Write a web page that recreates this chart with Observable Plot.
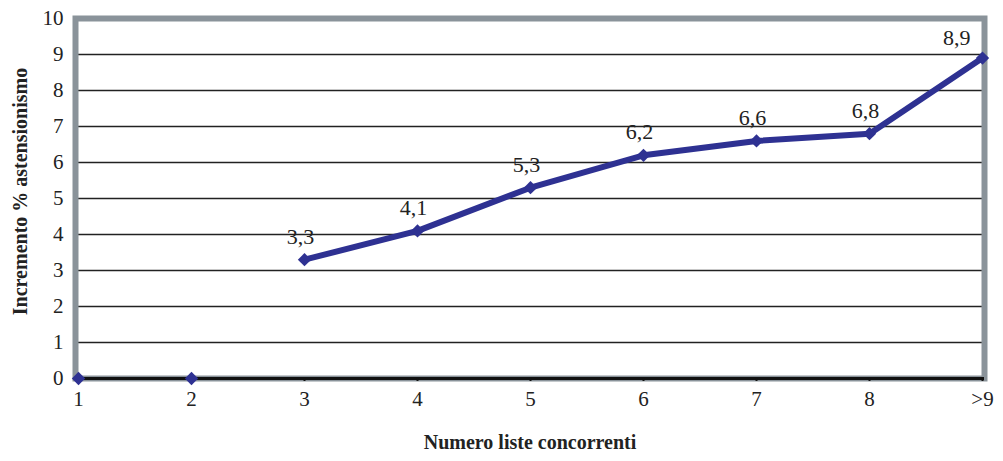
<!DOCTYPE html>
<html><head><meta charset="utf-8">
<script src="https://cdn.jsdelivr.net/npm/d3@7"></script>
<script src="https://cdn.jsdelivr.net/npm/@observablehq/plot@0.6"></script>
<style>
html,body{margin:0;padding:0;background:#fff;}
svg, svg text{font-family:"Liberation Serif","DejaVu Serif",serif !important;}
</style></head>
<body><div id="chart"></div>
<script>
const categories = ["1","2","3","4","5","6","7","8",">9"];
const values = [0,0,3.3,4.1,5.3,6.2,6.6,6.8,8.9];
const labels = [null,null,"3,3","4,1","5,3","6,2","6,6","6,8","8,9"];
const yTicks = [0,1,2,3,4,5,6,7,8,9,10];
const xTitle = "Numero liste concorrenti";
const yTitle = "Incremento % astensionismo";

const data = categories.map((c,i)=>({c, v: values[i], label: labels[i], i}));
const lineData = data.filter(d => d.i >= 2);
const labelData = data.filter(d => d.label && d.i < 8);
const lastLabel = data.filter(d => d.i === 8);

const blue = "#2e3192";
const chart = Plot.plot({
  width: 1003, height: 461,
  marginLeft: 75, marginRight: 19, marginTop: 18, marginBottom: 83,
  style: {fontSize: "20px", color: "#222", background: "#fff"},
  x: {type: "point", domain: categories, padding: 0, label: null},
  y: {domain: [0,10], label: null},
  marks: [
    Plot.ruleY(yTicks.filter(t => t > 0 && t < 10), {stroke: "#222", strokeWidth: 1.5}),
    Plot.frame({stroke: "#8a939a", strokeWidth: 6}),
    Plot.ruleY([0], {stroke: "#111", strokeWidth: 3}),
    Plot.axisX({tickSize: 3, tickPadding: 10, fontSize: 21, stroke: "#111", strokeWidth: 2, label: null}),
    Plot.axisY({ticks: yTicks, tickSize: 0, tickPadding: 12, fontSize: 21, label: null}),
    Plot.line(lineData, {x: "c", y: "v", stroke: blue, strokeWidth: 6}),
    Plot.dot(data, {x: "c", y: "v", symbol: "diamond2", fill: blue, r: 6, stroke: null}),
    Plot.text(labelData, {x: "c", y: "v", text: "label", dy: -23, dx: -4, fontSize: 22, fill: "#222"}),
    Plot.text(lastLabel, {x: "c", y: "v", text: "label", dy: -20, dx: -12, textAnchor: "end", fontSize: 22, fill: "#222"}),
    Plot.text([xTitle], {frameAnchor: "bottom", dy: 70, fontWeight: "bold", fontSize: 20, fill: "#222"}),
    Plot.text([yTitle], {frameAnchor: "left", textAnchor: "middle", dx: -55, dy: -7, rotate: -90, fontWeight: "bold", fontSize: 20, fill: "#222"})
  ]
});
document.getElementById("chart").append(chart);
</script></body></html>
